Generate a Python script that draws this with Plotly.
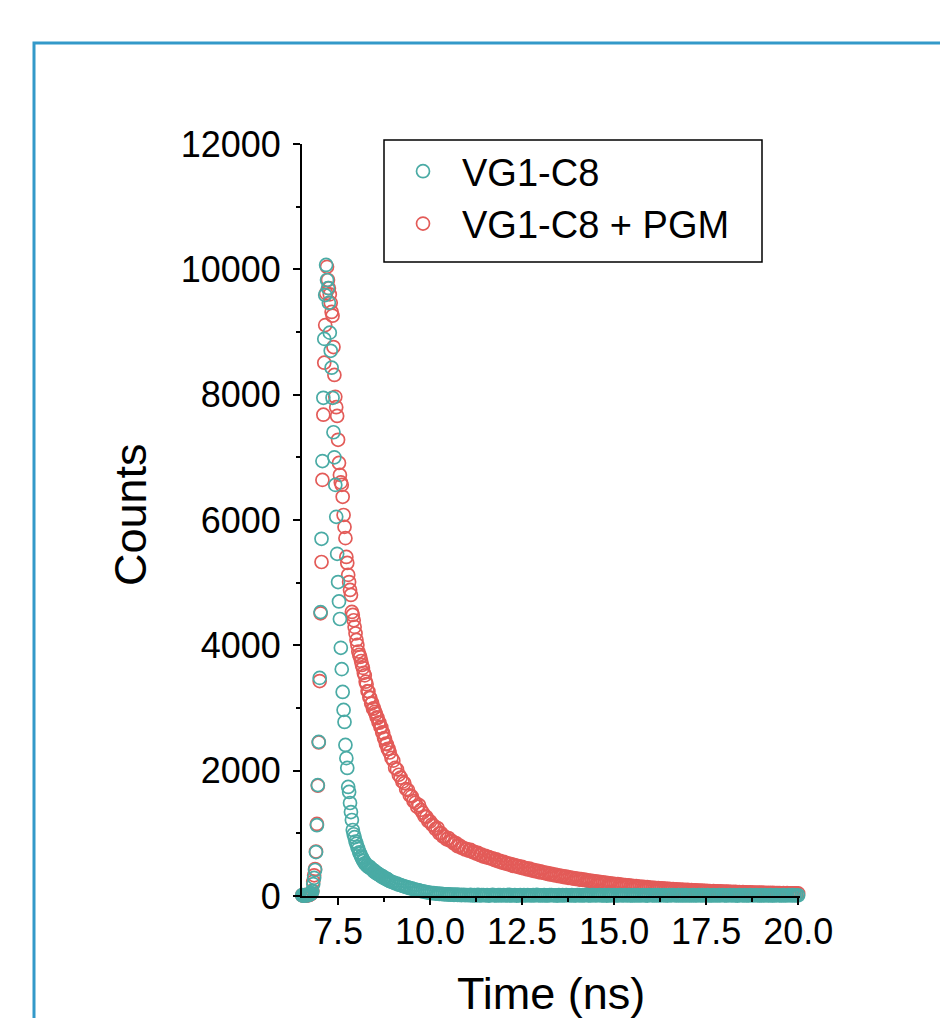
import numpy as np
import plotly.graph_objects as go

# ---------------- data ----------------
# TCSPC time channels: fine channels 6.400-8.875 ns, coarse channels 8.90-20.00 ns
fine_start, fine_step, n_fine = 6.400, 0.025, 100
coarse_start, coarse_step, n_coarse = 8.90, 0.05, 223

counts_vg1c8_fine = [
    6, 9, 4, 11, 7, 13, 5, 10, 16, 8, 12, 19, 15, 24, 32, 45, 75,
    190, 290, 415, 700, 1130, 1770, 2460, 3480, 4530, 5700, 6940, 7950, 8890, 9590, 10070,
    9830, 9700, 9465, 8990, 8700, 8430, 7950, 7400, 7000, 6560, 6050, 5460, 5010, 4700,
    4420, 3960, 3620, 3256, 2970, 2777, 2410, 2200, 2043, 1740, 1660, 1484, 1340, 1213,
    1053, 985, 938, 870, 835, 781, 752, 698, 676, 631,
    612, 570, 561, 522, 514, 488, 483, 462, 470, 446,
    438, 421, 415, 392, 396, 371, 368, 349, 352, 334,
    331, 312, 318, 296, 293, 279, 283, 262, 266, 249,
]
counts_vg1c8_coarse = [
    240, 226, 218, 203, 197, 180, 174, 161, 155, 142, 137, 124, 121, 108, 104, 93, 90, 79,
    76, 66, 63, 55, 52, 46, 45, 39, 38, 33, 34, 29, 28, 25, 26, 21, 23, 19, 21, 17, 19, 15,
    18, 14, 16,
    12, 17, 9, 14, 11, 19, 8, 13, 16, 10,
    15, 7, 12, 18, 11, 9, 14, 13, 8, 16,
    10, 13, 17, 9, 12, 15, 7, 11, 14, 10,
    13, 8, 16, 12, 9, 14, 11, 17, 10, 12,
    9, 15, 11, 8, 13, 16, 10, 12, 7, 14,
    11, 13, 9, 16, 12, 10, 15, 8, 11, 13,
    14, 9, 12, 10, 17, 11, 8, 13, 15, 10,
    12, 16, 9, 11, 14, 7, 13, 10, 12, 15,
    8, 11, 14, 12, 9, 16, 10, 13, 11, 8,
    13, 10, 15, 9, 12, 14, 11, 7, 16, 12,
    10, 13, 8, 14, 11, 12, 15, 9, 10, 13,
    11, 16, 12, 8, 14, 10, 13, 9, 15, 11,
    12, 9, 14, 11, 10, 16, 8, 13, 12, 10,
    15, 11, 9, 13, 12, 8, 14, 10, 16, 11,
    9, 12, 15, 10, 13, 11, 7, 14, 12, 10,
    13, 8, 11, 16, 9, 12, 14, 10, 11, 13,
    10, 15, 12, 9, 13, 11, 8, 14, 12, 10,
    11, 13, 9, 12, 15, 10, 14, 8, 12, 11,
]

counts_pgm_fine = [
    4, 8, 6, 10, 5, 12, 9, 7, 14, 11, 9, 17, 13, 21, 28, 40, 82,
    230, 330, 430, 710, 1150, 1760, 2450, 3430, 4510, 5330, 6640, 7680, 8510, 9110, 9620,
    10040, 9830, 9700, 9600, 9465, 9320, 9260, 8760, 8315, 7965, 7800, 7660, 7280, 6910,
    6720, 6600, 6560, 6370, 6080, 5890, 5710, 5410, 5315, 5124, 5010, 4884, 4804, 4533,
    4485, 4400, 4294, 4190, 4086, 4006, 3900, 3850, 3815, 3750, 3687,
    3640, 3560, 3520, 3420, 3380, 3270, 3265, 3170, 3160, 3070, 3080, 2990, 2995, 2940,
    2910, 2850, 2840, 2770, 2765, 2700, 2690, 2610, 2600, 2520, 2505, 2430, 2420, 2350, 2345,
]
counts_pgm_coarse = [
    2290, 2205, 2160, 2045, 2020, 1935, 1890, 1825, 1800, 1705,
    1690, 1605, 1590, 1515, 1490, 1425, 1450, 1375, 1330, 1270,
    1262, 1195, 1190, 1140, 1120, 1070, 1085, 1000, 1002, 950,
    948, 905, 925, 880, 876, 838, 845, 795, 805, 768,
    770, 742, 748, 722, 735, 700, 705, 676, 688, 652,
    660, 628, 642, 612, 620, 598, 600, 574, 584, 552,
    560, 533, 544, 518, 526, 500, 510, 482, 494, 468,
    478, 452, 464, 440, 446, 424, 436, 410, 418, 396,
    404, 382, 392, 372, 376, 358, 366, 344, 352, 334,
    340, 322, 330, 312, 318, 300, 308, 290, 296, 282,
    286, 272, 278, 262, 268, 255, 260, 245, 250, 236,
    242, 228, 233, 220, 226, 212, 217, 204, 210, 197,
    202, 190, 195, 183, 188, 177, 182, 170, 175, 164,
    169, 158, 163, 152, 157, 147, 151, 142, 146, 137,
    141, 132, 136, 128, 131, 124, 127, 119, 123, 115,
    119, 111, 115, 107, 111, 104, 107, 100, 104, 97,
    100, 94, 97, 91, 94, 88, 91, 85, 88, 83,
    86, 80, 83, 78, 80, 75, 78, 73, 75, 70,
    73, 68, 71, 66, 69, 64, 67, 62, 65, 60,
    63, 59, 61, 57, 60, 55, 58, 54, 56, 52,
    55, 51, 53, 50, 52, 48, 51, 47, 49, 46,
    48, 45, 47, 44, 46, 43, 45, 42, 44, 41,
    43, 41, 42,
]

series_names = ["VG1-C8", "VG1-C8 + PGM"]
x_tick_values = [7.5, 10.0, 12.5, 15.0, 17.5, 20.0]
y_tick_values = [0, 2000, 4000, 6000, 8000, 10000, 12000]

assert len(counts_vg1c8_fine) == n_fine and len(counts_pgm_fine) == n_fine
assert len(counts_vg1c8_coarse) == n_coarse and len(counts_pgm_coarse) == n_coarse

time_ns = np.round(np.concatenate([
    fine_start + fine_step * np.arange(n_fine),
    coarse_start + coarse_step * np.arange(n_coarse),
]), 3)
counts_vg1c8 = counts_vg1c8_fine + counts_vg1c8_coarse
counts_pgm = counts_pgm_fine + counts_pgm_coarse

# ---------------- styling ----------------
TEAL = "#4aaba5"
RED = "#e35b58"
FONT = "Arial, Liberation Sans, sans-serif"

W, H = 940, 1018
PLOT_L, PLOT_R, PLOT_T, PLOT_B = 302, 800, 144, 896   # plot area in page pixels
ML, MT = PLOT_L, PLOT_T
MR, MB = W - PLOT_R, H - PLOT_B
PW, PH = PLOT_R - PLOT_L, PLOT_B - PLOT_T


def px_x(p):
    return (p - PLOT_L) / PW


def px_y(p):
    return (PLOT_B - p) / PH


fig = go.Figure()
fig.add_trace(go.Scatter(
    x=time_ns, y=counts_pgm, mode="markers", name=series_names[1],
    legendrank=2,
    marker=dict(symbol="circle-open", size=13, color=RED, line=dict(width=1.7)),
    cliponaxis=False,
))
fig.add_trace(go.Scatter(
    x=time_ns, y=counts_vg1c8, mode="markers", name=series_names[0],
    legendrank=1,
    marker=dict(symbol="circle-open", size=13, color=TEAL, line=dict(width=1.7)),
    cliponaxis=False,
))

axis_common = dict(
    showline=True, linecolor="black", linewidth=2,
    ticks="outside", ticklen=7, tickwidth=2, tickcolor="black",
    showgrid=False, zeroline=False,
    tickfont=dict(family=FONT, size=36, color="black"),
)

fig.update_layout(
    width=W, height=H, autosize=False,
    margin=dict(l=ML, r=MR, t=MT, b=MB),
    paper_bgcolor="white", plot_bgcolor="white",
    font=dict(family=FONT, color="black"),
    showlegend=True,
    xaxis=dict(
        range=[6.52, 20.05], tickvals=x_tick_values, tickformat=".1f",
        minor=dict(ticks="outside", ticklen=4, tickwidth=1.5, tickcolor="black",
                   tick0=8.75, dtick=2.5),
        ticklabelstandoff=-4,
        **axis_common,
    ),
    yaxis=dict(
        range=[0, 12000], tickvals=y_tick_values, tickformat="d",
        minor=dict(ticks="outside", ticklen=4, tickwidth=1.5, tickcolor="black",
                   tick0=1000, dtick=2000),
        ticklabelstandoff=5,
        **axis_common,
    ),
    legend=dict(
        x=px_x(384), y=px_y(140), xanchor="left", yanchor="top",
        bgcolor="rgba(0,0,0,0)", borderwidth=0,
        font=dict(family=FONT, size=38, color="black"),
        traceorder="normal",
        itemwidth=68,
    ),
    annotations=[
        dict(text="Time (ns)", x=0.5, y=px_y(993), xref="paper", yref="paper",
             xanchor="center", yanchor="middle", showarrow=False,
             font=dict(family=FONT, size=45, color="black")),
        dict(text="Counts", x=px_x(130), y=px_y(515), xref="paper", yref="paper",
             xanchor="center", yanchor="middle", showarrow=False, textangle=-90,
             font=dict(family=FONT, size=45, color="black")),
    ],
    shapes=[
        dict(type="rect", xref="paper", yref="paper",
             x0=px_x(384), x1=px_x(762), y0=px_y(262), y1=px_y(140),
             line=dict(color="black", width=1.5), fillcolor="rgba(0,0,0,0)"),
        dict(type="path", xref="paper", yref="paper",
             path=f"M {px_x(34)},{px_y(1040)} L {px_x(34)},{px_y(43)} L {px_x(960)},{px_y(43)}",
             line=dict(color="#3399c9", width=3)),
    ],
)

fig.write_html(
    "out.html",
    config={"displayModeBar": False},
    post_script="document.body.style.margin='0px';document.body.style.overflow='hidden';",
)
